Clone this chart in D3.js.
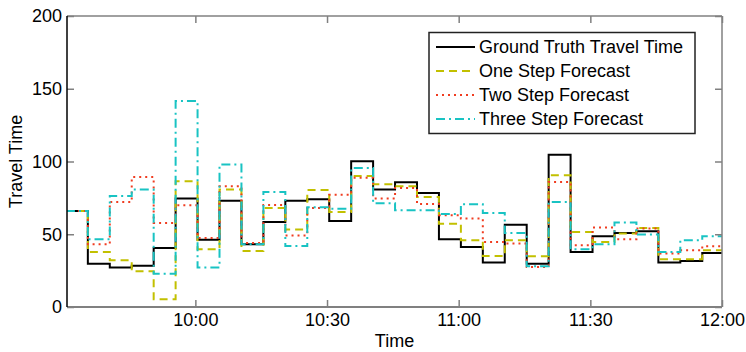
<!DOCTYPE html>
<html>
<head>
<meta charset="utf-8">
<script src="https://cdn.jsdelivr.net/npm/d3@7"></script>
<style>
  body { margin: 0; background: #fff; }
  text { font-family: "Liberation Sans", Arial, sans-serif; }
</style>
</head>
<body>
<svg id="chart" width="746" height="352"></svg>
<script>
// interval start times (5 minute steps)
const times = ["09:30:30","09:35:30","09:40:30","09:45:30","09:50:30","09:55:30",
  "10:00:30","10:05:30","10:10:30","10:15:30","10:20:30","10:25:30",
  "10:30:30","10:35:30","10:40:30","10:45:30","10:50:30","10:55:30",
  "11:00:30","11:05:30","11:10:30","11:15:30","11:20:30","11:25:30",
  "11:30:30","11:35:30","11:40:30","11:45:30","11:50:30","11:55:30","12:00:30"];
const groundTruth = [66, 29.8, 27.1, 28.4, 40.6, 74.5, 46.3, 73.1, 43.1, 58.4, 73.1, 74, 59.1, 100.1, 80.7,
  85.7, 78.4, 46.5, 41.2, 30.5, 56.6, 29.8, 104.7, 37.8, 48.6, 50.9, 52, 30.5, 31.6, 37.1];
const oneStep = [66, 37.8, 32.1, 24.5, 5.3, 86.4, 39.7, 80.7, 38.5, 68, 53.2, 80.4, 65.3, 90, 84.3,
  83, 75.6, 57.3, 45.8, 35, 45.8, 34.8, 90.5, 51.5, 44.7, 50.5, 54.3, 32.8, 32.8, 39];
const twoStep = [66, 43.1, 72.2, 89.4, 57.7, 69.9, 47.4, 83, 44, 70.1, 49.1, 68, 77.2, 88.9, 74.5,
  81.8, 70.8, 63, 60.8, 44.7, 43.6, 27.5, 85.9, 42.4, 54.6, 46.5, 53.9, 36.7, 39, 41.7];
const threeStep = [66, 46.5, 76.3, 80.7, 22.9, 141.6, 27.1, 97.9, 43.1, 79, 41.9, 68.5, 67.6, 95.5, 71.3,
  66.5, 66.5, 63.9, 70.6, 64.6, 50.9, 28, 72.2, 39.7, 43.1, 58, 49.8, 37.8, 45.8, 48.6];
const seriesNames = ["Ground Truth Travel Time", "One Step Forecast", "Two Step Forecast", "Three Step Forecast"];
const xTickLabels = ["10:00", "10:30", "11:00", "11:30", "12:00"];
const yTicks = [0, 50, 100, 150, 200];
const xStart = "09:30:45", xEnd = "12:00:00";

const parse = d3.timeParse("%H:%M:%S");
const parseTick = d3.timeParse("%H:%M");

const svg = d3.select("#chart");
const m = {left: 67, right: 722, top: 16, bottom: 307};

const x = d3.scaleTime().domain([parse(xStart), parse(xEnd)]).range([m.left, m.right]);
const y = d3.scaleLinear().domain([0, 200]).range([m.bottom, m.top]);

svg.append("defs").append("clipPath").attr("id", "plotclip")
  .append("rect").attr("x", m.left).attr("y", m.top)
  .attr("width", m.right - m.left).attr("height", m.bottom - m.top);

const styles = [
  {color: "#000000", dash: null},
  {color: "#c2c000", dash: "8,5"},
  {color: "#f03c20", dash: "2,4"},
  {color: "#19c3c3", dash: "9,4,2,4"}
];
const allSeries = [groundTruth, oneStep, twoStep, threeStep];

const line = d3.line()
  .x(d => x(d.t))
  .y(d => y(d.v))
  .curve(d3.curveStepAfter);

const g = svg.append("g").attr("clip-path", "url(#plotclip)");
allSeries.forEach(function (vals, i) {
  const pts = vals.map((v, k) => ({t: parse(times[k]), v: v}));
  pts.push({t: parse(times[vals.length]), v: vals[vals.length - 1]});
  g.append("path")
    .datum(pts)
    .attr("fill", "none")
    .attr("stroke", styles[i].color)
    .attr("stroke-width", 2)
    .attr("stroke-dasharray", styles[i].dash)
    .attr("d", line);
});

// axes
const tickDates = xTickLabels.map(parseTick);
const xAxis = svg.append("g").attr("transform", `translate(0,${m.bottom})`)
  .call(d3.axisBottom(x).tickValues(tickDates).tickFormat((d, i) => xTickLabels[i])
    .tickSize(-7).tickPadding(6));
const xTop = svg.append("g").attr("transform", `translate(0,${m.top})`)
  .call(d3.axisTop(x).tickValues(tickDates).tickFormat("").tickSize(-7));
const yAxis = svg.append("g").attr("transform", `translate(${m.left},0)`)
  .call(d3.axisLeft(y).tickValues(yTicks).tickSize(-7).tickPadding(5));
const yRight = svg.append("g").attr("transform", `translate(${m.right},0)`)
  .call(d3.axisRight(y).tickValues(yTicks).tickFormat("").tickSize(-7));

[xAxis, xTop, yAxis, yRight].forEach(a => {
  a.select(".domain").remove();
  a.selectAll(".tick line").attr("stroke", "#808080").attr("stroke-width", 1.5);
  a.selectAll("text").attr("font-size", 18).attr("fill", "#000")
    .style("font-family", "'Liberation Sans', Arial, sans-serif");
});

// box
svg.append("line").attr("x1", m.left).attr("x2", m.right).attr("y1", m.top).attr("y2", m.top)
  .attr("stroke", "#808080").attr("stroke-width", 1.5);
svg.append("line").attr("x1", m.left).attr("x2", m.right).attr("y1", m.bottom).attr("y2", m.bottom)
  .attr("stroke", "#808080").attr("stroke-width", 1.8);
svg.append("line").attr("x1", m.right).attr("x2", m.right).attr("y1", m.top).attr("y2", m.bottom)
  .attr("stroke", "#808080").attr("stroke-width", 1.5);
svg.append("line").attr("x1", m.left).attr("x2", m.left).attr("y1", m.top).attr("y2", m.bottom)
  .attr("stroke", "#000").attr("stroke-width", 1.5);

// axis titles
svg.append("text")
  .attr("transform", `translate(22,${(m.top + m.bottom) / 2}) rotate(-90)`)
  .attr("text-anchor", "middle")
  .attr("font-size", 18)
  .text("Travel Time");
svg.append("text")
  .attr("x", (m.left + m.right) / 2)
  .attr("y", 347)
  .attr("text-anchor", "middle")
  .attr("font-size", 18)
  .text("Time");

// legend
const legend = svg.append("g");
legend.append("rect")
  .attr("x", 429).attr("y", 32.5).attr("width", 266).attr("height", 101)
  .attr("fill", "#fff").attr("stroke", "#222").attr("stroke-width", 1.5);
seriesNames.forEach(function (name, i) {
  const ly = 47 + i * 24;
  legend.append("line")
    .attr("x1", 436).attr("x2", 475).attr("y1", ly).attr("y2", ly)
    .attr("stroke", styles[i].color).attr("stroke-width", 2)
    .attr("stroke-dasharray", styles[i].dash);
  legend.append("text")
    .attr("x", 479).attr("y", ly).attr("dy", "0.35em")
    .attr("font-size", 18)
    .text(name);
});
</script>
</body>
</html>
